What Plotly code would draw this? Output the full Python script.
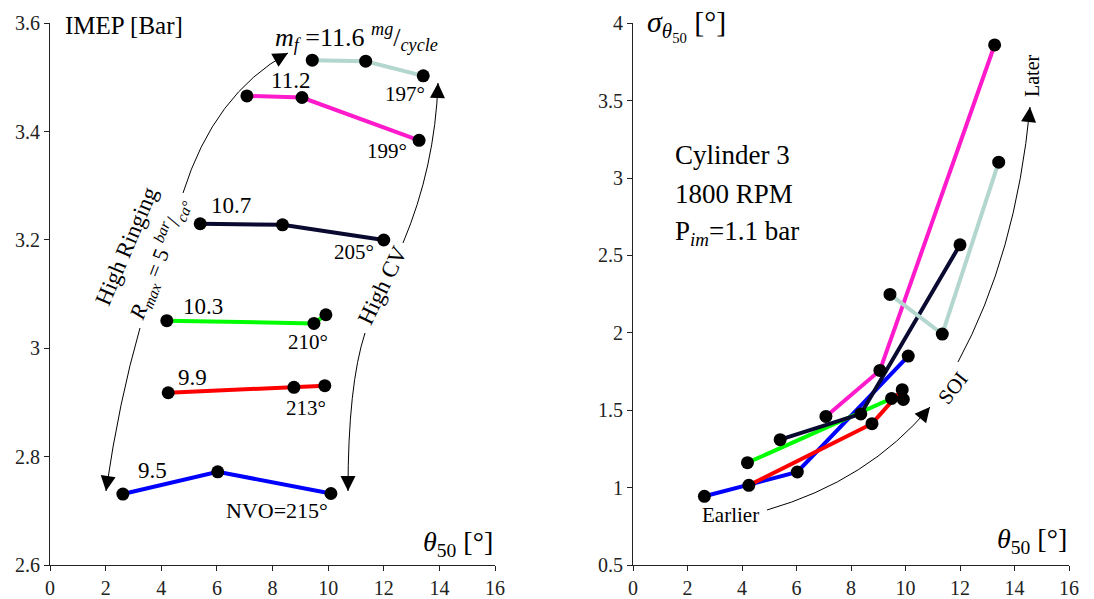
import math
import plotly.graph_objects as go

W, H = 1094, 599
FONT = "Liberation Serif, Times New Roman, serif"

# ---------------- data ----------------
series_names = ["215", "213", "210", "205", "199", "197"]
series_colors = ["#0000ff", "#ff0000", "#00ff00", "#0a0a30", "#ff1acb", "#b3d6cf"]
theta50 = [
    [2.62, 6.03, 10.10],
    [4.25, 8.77, 9.88],
    [4.20, 9.49, 9.92],
    [5.40, 8.36, 12.00],
    [7.08, 9.06, 13.27],
    [9.43, 11.35, 13.42],
]
imep = [
    [2.731, 2.772, 2.732],
    [2.918, 2.928, 2.931],
    [3.051, 3.046, 3.062],
    [3.230, 3.228, 3.200],
    [3.466, 3.463, 3.384],
    [3.532, 3.530, 3.503],
]
sigma_theta50 = [
    [0.944, 1.101, 1.850],
    [1.015, 1.413, 1.633],
    [1.161, 1.576, 1.570],
    [1.310, 1.476, 2.569],
    [1.460, 1.757, 3.860],
    [2.248, 1.992, 3.103],
]
fuel_labels = ["9.5", "9.9", "10.3", "10.7", "11.2"]
nvo_labels = ["NVO=215°", "213°", "210°", "205°", "199°", "197°"]
x_ticks = [0, 2, 4, 6, 8, 10, 12, 14, 16]
imep_ticks = [2.6, 2.8, 3.0, 3.2, 3.4, 3.6]
sigma_ticks = [0.5, 1, 1.5, 2, 2.5, 3, 3.5, 4]


def px(x):
    return x / W


def py(y):
    return 1 - y / H


fig = go.Figure()

for i in range(len(series_names)):
    fig.add_trace(go.Scatter(
        x=theta50[i], y=imep[i], mode="lines+markers",
        line=dict(color=series_colors[i], width=4),
        marker=dict(color="black", size=13),
        xaxis="x", yaxis="y", showlegend=False, name=series_names[i]))
for i in range(len(series_names)):
    fig.add_trace(go.Scatter(
        x=theta50[i], y=sigma_theta50[i], mode="lines+markers",
        line=dict(color=series_colors[i], width=4),
        marker=dict(color="black", size=13),
        xaxis="x2", yaxis="y2", showlegend=False, name=series_names[i]))

ydom = [py(565), py(23.3)]
axis_common = dict(showline=True, linecolor="#222", linewidth=1, ticks="outside",
                   ticklen=5, tickcolor="#222", showgrid=False, zeroline=False,
                   automargin=False,
                   tickfont=dict(family=FONT, size=20, color="#222"))
fig.update_layout(
    width=W, height=H,
    margin=dict(l=0, r=0, t=0, b=0, pad=0, autoexpand=False),
    paper_bgcolor="white", plot_bgcolor="white",
    font=dict(family=FONT),
    xaxis=dict(domain=[px(50), px(495)], range=[0, 16], tickvals=x_ticks,
               anchor="y", **axis_common),
    yaxis=dict(domain=ydom, range=[2.6, 3.6], tickvals=imep_ticks,
               anchor="x", **axis_common),
    xaxis2=dict(domain=[px(633), px(1069)], range=[0, 16], tickvals=x_ticks,
                anchor="y2", **axis_common),
    yaxis2=dict(domain=ydom, range=[0.5, 4], tickvals=sigma_ticks,
                anchor="x2", **axis_common),
)

annotations = []


def text(xp, ypix, s, size=20, angle=0, xanchor="center"):
    annotations.append(dict(
        x=px(xp), y=py(ypix), xref="paper", yref="paper", text=s,
        showarrow=False, textangle=angle, xanchor=xanchor, yanchor="middle",
        font=dict(family=FONT, size=size, color="black")))


# left panel texts
text(63, 25, "IMEP [Bar]", size=25, xanchor="left")
text(356, 37, "<i>m</i><sub><i>f</i></sub> =11.6 <sup><i>mg</i></sup>/<sub><i>cycle</i></sub>", size=26)
fuel_pos = [(152, 470), (192, 377), (203, 307), (231, 206), (290, 80)]
for lab, (xp, yp) in zip(fuel_labels, fuel_pos):
    text(xp, yp, lab, size=23)
nvo_pos = [(277, 510), (306, 408), (308, 342), (354, 252), (387, 151), (405, 94)]
for lab, (xp, yp) in zip(nvo_labels, nvo_pos):
    text(xp, yp, lab, size=22 if lab.startswith("NVO") else 21)
text(126, 246, "High Ringing", size=23, angle=-67)
text(158, 259, "<i>R</i><sub><i>max</i></sub> = 5 <sup><i>bar</i></sup>/<sub><i>ca°</i></sub>", size=22, angle=-69)
text(382, 285, "High CV", size=23, angle=-64)
text(495, 543, "<i>θ</i><sub>50</sub> [°]", size=28, xanchor="right")

# right panel texts
text(645, 25, "<i>σ</i><sub><i>θ</i><sub>50</sub></sub> [°]", size=30, xanchor="left")
text(673, 155, "Cylinder 3", size=27, xanchor="left")
text(673, 194, "1800 RPM", size=27, xanchor="left")
text(673, 233, "P<sub><i>im</i></sub>=1.1 bar", size=27, xanchor="left")
text(1032, 76, "Later", size=20, angle=-90)
text(953, 388, "SOI", size=21, angle=-52)
text(730, 515, "Earlier", size=21)
text(1069, 540, "<i>θ</i><sub>50</sub> [°]", size=28, xanchor="right")

# curved arrows (pixel coords -> paper)
curves = [
    ((183, 193), (214, 94), (288, 53)),
    ((140, 328), (119, 401), (106, 491)),
    ((403, 243), (435, 167), (438, 83)),
    ((365, 333), (348, 385), (348, 491)),
    ((767, 510), (868, 481), (930, 407)),
    ((958, 362), (1016, 255), (1030, 107)),
]
shapes = []
for p0, c, p2 in curves:
    path = "M {:.5f},{:.5f} Q {:.5f},{:.5f} {:.5f},{:.5f}".format(
        px(p0[0]), py(p0[1]), px(c[0]), py(c[1]), px(p2[0]), py(p2[1]))
    shapes.append(dict(type="path", path=path, xref="paper", yref="paper",
                       line=dict(color="black", width=1)))
    dx, dy = p2[0] - c[0], p2[1] - c[1]
    n = math.hypot(dx, dy)
    L = 16
    annotations.append(dict(
        x=px(p2[0]), y=py(p2[1]), xref="paper", yref="paper",
        ax=-dx / n * L, ay=-dy / n * L, text="", showarrow=True,
        arrowhead=2, arrowsize=3, arrowwidth=1, arrowcolor="black",
        standoff=0, startstandoff=0))

fig.update_layout(annotations=annotations, shapes=shapes)
fig.write_html("out.html")
